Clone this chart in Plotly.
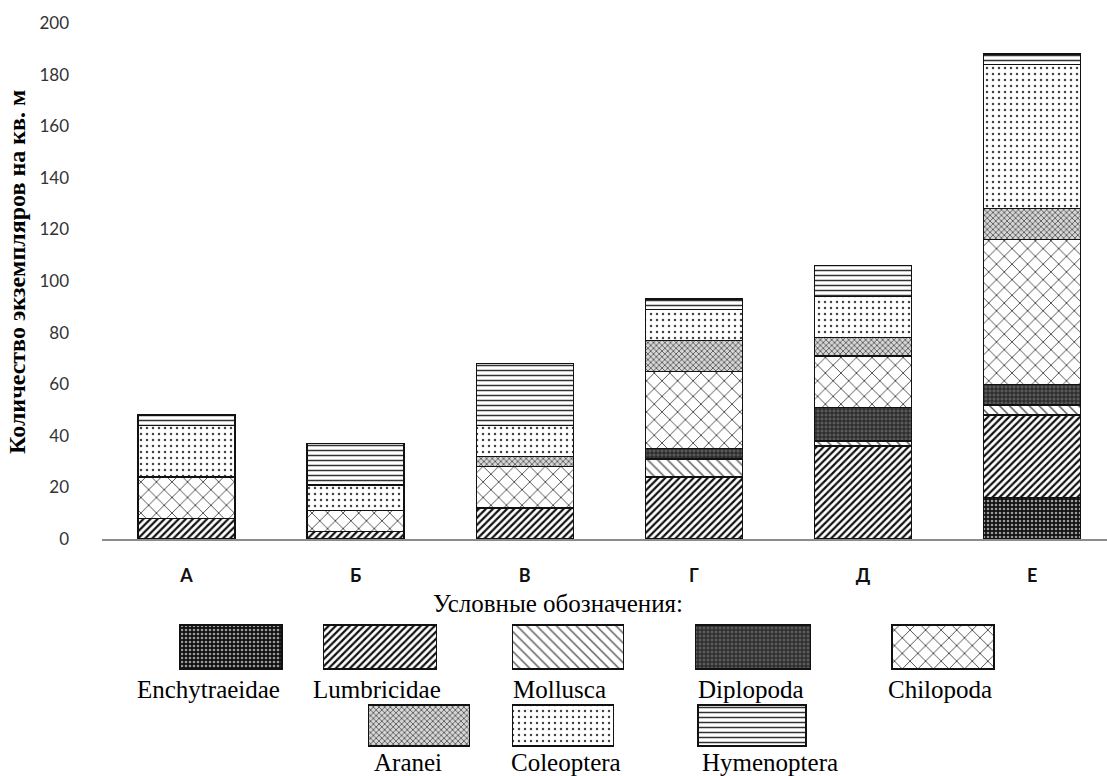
import plotly.graph_objects as go

# ---------------- data ----------------
categories = ["А", "Б", "В", "Г", "Д", "Е"]
groups = ["Enchytraeidae", "Lumbricidae", "Mollusca", "Diplopoda",
          "Chilopoda", "Aranei", "Coleoptera", "Hymenoptera"]
enchytraeidae = [0, 0, 0, 0, 0, 16]
lumbricidae = [8, 3, 12, 24, 36, 32]
mollusca = [0, 0, 0, 7, 2, 4]
diplopoda = [0, 0, 0, 4, 13, 8]
chilopoda = [16, 8, 16, 30, 20, 56]
aranei = [0, 0, 4, 12, 7, 12]
coleoptera = [20, 10, 12, 12, 16, 56]
hymenoptera = [4, 16, 24, 4, 12, 4]
series = [enchytraeidae, lumbricidae, mollusca, diplopoda,
          chilopoda, aranei, coleoptera, hymenoptera]
y_ticks = [0, 20, 40, 60, 80, 100, 120, 140, 160, 180, 200]

# ---------------- styles ----------------
styles = {
    "Enchytraeidae": dict(bg="#111111", fg="#9a9a9a", shape=".", size=4, solidity=0.35),
    "Lumbricidae": dict(bg="#ffffff", fg="#111111", shape="/", size=5, solidity=0.45),
    "Mollusca": dict(bg="#ffffff", fg="#555555", shape="\\", size=7, solidity=0.2),
    "Diplopoda": dict(bg="#5a5a5a", fg="#111111", shape="+", size=4, solidity=0.35),
    "Chilopoda": dict(bg="#ffffff", fg="#2a2a2a", shape="x", size=11, solidity=0.14),
    "Aranei": dict(bg="#d6d6d6", fg="#444444", shape="x", size=4, solidity=0.35),
    "Coleoptera": dict(bg="#ffffff", fg="#444444", shape=".", size=6, solidity=0.14),
    "Hymenoptera": dict(bg="#ffffff", fg="#333333", shape="-", size=5, solidity=0.3),
}

W, H = 1107, 776
plot_left, plot_top, plot_bottom = 102, 23, 539

def marker_for(name):
    s = styles[name]
    return dict(color=s["bg"],
                pattern=dict(shape=s["shape"], fgcolor=s["fg"], bgcolor=s["bg"],
                             size=s["size"], solidity=s["solidity"], fillmode="replace"),
                line=dict(color="#111111", width=1.4))

fig = go.Figure()
for name, vals in zip(groups, series):
    fig.add_trace(go.Bar(x=categories, y=vals, name=name, marker=marker_for(name),
                         xaxis="x", yaxis="y", showlegend=False))

# ---------------- custom legend (layout slots, pixel units) ----------------
# (center_x, top, bottom, width, label_center_x, label_y)
legend_slots = {
    "Enchytraeidae": (231, 625, 669, 102, 208, 689),
    "Lumbricidae": (380, 625, 669, 113, 377, 689),
    "Mollusca": (568, 625, 669, 111, 559, 689),
    "Diplopoda": (753, 625, 669, 115, 751, 689),
    "Chilopoda": (943, 625, 669, 102, 940, 689),
    "Aranei": (419, 705, 746, 101, 408, 762),
    "Coleoptera": (563, 705, 746, 101, 566, 762),
    "Hymenoptera": (752, 705, 746, 108, 770, 762),
}
annotations = []
for name in groups:
    cx, top, bot, w, lx, ly = legend_slots[name]
    fig.add_trace(go.Bar(x=[cx], y=[bot - top], base=[H - bot], width=[w],
                         marker=marker_for(name), xaxis="x2", yaxis="y2",
                         showlegend=False, hoverinfo="skip"))
    annotations.append(dict(x=lx, y=H - ly, xref="x2", yref="y2", text=name,
                            showarrow=False, xanchor="center", yanchor="middle",
                            font=dict(family="Liberation Serif", size=25, color="#000")))

annotations.append(dict(x=558, y=H - 603, xref="x2", yref="y2", text="Условные обозначения:",
                        showarrow=False, xanchor="center", yanchor="middle",
                        font=dict(family="Liberation Serif", size=25, color="#000")))
annotations.append(dict(x=17 / W, y=1 - 272 / H, xref="paper", yref="paper",
                        text="<b>Количество экземпляров на кв. м</b>", textangle=-90,
                        showarrow=False, xanchor="center", yanchor="middle",
                        font=dict(family="Liberation Serif", size=24, color="#000")))

fig.update_layout(
    width=W, height=H,
    margin=dict(l=0, r=0, t=0, b=0),
    paper_bgcolor="white", plot_bgcolor="rgba(0,0,0,0)",
    barmode="stack", bargap=0.426,
    showlegend=False,
    xaxis=dict(domain=[plot_left / W, 1], range=[-0.5, 5.443], type="category",
               showline=True, linecolor="#8c8c8c", linewidth=1.5, ticks="",
               showgrid=False, zeroline=False, automargin=False,
               tickprefix="<b>", ticksuffix="</b>",
               tickfont=dict(family="Lato", size=18, color="#111"),
               ticklabelstandoff=20, anchor="y"),
    yaxis=dict(domain=[(H - plot_bottom) / H, (H - plot_top) / H], range=[0, 200],
               tickvals=y_ticks, showline=False, showgrid=False, zeroline=False,
               ticks="", automargin=False, ticklabelstandoff=32,
               tickfont=dict(family="Lato", size=17, color="#333"), anchor="x"),
    xaxis2=dict(domain=[0, 1], range=[0, W], visible=False, anchor="y2", fixedrange=True),
    yaxis2=dict(domain=[0, 1], range=[0, H], visible=False, anchor="x2", fixedrange=True),
    annotations=annotations,
)

fig.write_html("out.html", config={"displayModeBar": False},
               post_script="document.body.style.margin='0';")
